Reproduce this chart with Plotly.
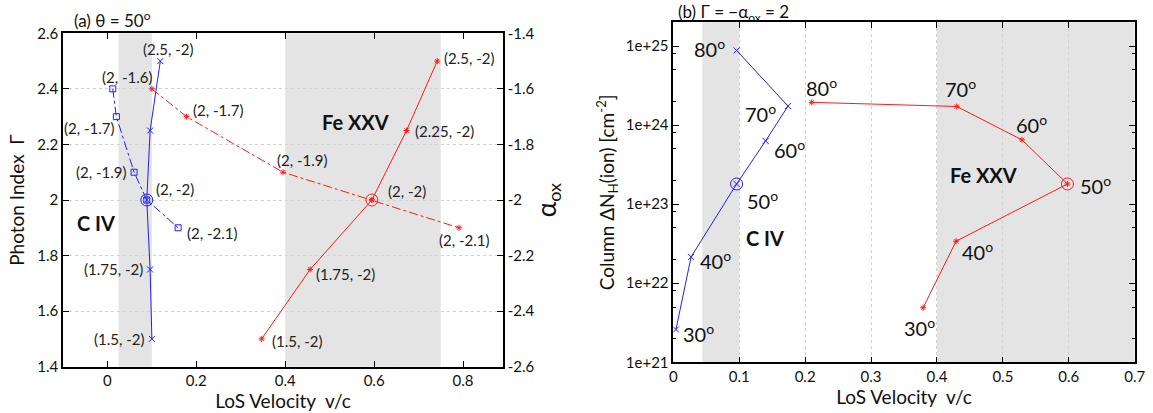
import math
import plotly.graph_objects as go

# ---------------- data: panel (a) ----------------
gamma_vals = [2.5, 2.25, 2.0, 1.75, 1.5]          # photon index Γ (alpha_ox = -2)
alpha_vals = [-1.6, -1.7, -1.9, -2.0, -2.1]       # alpha_ox (Γ = 2)
civ_v_gamma = [0.119, 0.096, 0.0885, 0.096, 0.100]
fe_v_gamma = [0.742, 0.673, 0.595, 0.456, 0.347]
civ_v_alpha = [0.012, 0.020, 0.060, 0.0885, 0.159]
fe_v_alpha = [0.100, 0.178, 0.395, 0.595, 0.791]
civ_gamma_labels = ["(2.5, -2)", "", "(2, -2)", "(1.75, -2)", "(1.5, -2)"]
fe_gamma_labels = ["(2.5, -2)", "(2.25, -2)", "(2, -2)", "(1.75, -2)", "(1.5, -2)"]
civ_alpha_labels = ["(2, -1.6)", "(2, -1.7)", "(2, -1.9)", "", "(2, -2.1)"]
fe_alpha_labels = ["", "(2, -1.7)", "(2, -1.9)", "", "(2, -2.1)"]
fiducial_index_gamma = 2
civ_band_a = [0.025, 0.100]
fe_band_a = [0.400, 0.750]

gamma_ticks = [1.4, 1.6, 1.8, 2.0, 2.2, 2.4, 2.6]
gamma_ticktext = ["1.4", "1.6", "1.8", "2", "2.2", "2.4", "2.6"]
alpha_ticks = [-2.6, -2.4, -2.2, -2.0, -1.8, -1.6, -1.4]
alpha_ticktext = ["-2.6", "-2.4", "-2.2", "-2", "-1.8", "-1.6", "-1.4"]
va_ticks = [0, 0.2, 0.4, 0.6, 0.8]
va_ticktext = ["0", "0.2", "0.4", "0.6", "0.8"]

# ---------------- data: panel (b) ----------------
angles = [30, 40, 50, 60, 70, 80]
civ_v_angle = [0.004, 0.027, 0.096, 0.140, 0.174, 0.096]
civ_nh = [2.6e21, 2.15e22, 1.8e23, 6.3e23, 1.74e24, 8.8e24]
fe_v_angle = [0.379, 0.429, 0.598, 0.529, 0.430, 0.210]
fe_nh = [4.9e21, 3.4e22, 1.8e23, 6.5e23, 1.72e24, 1.94e24]
fiducial_index_angle = 2
civ_band_b = [0.044, 0.100]
fe_band_b = [0.400, 0.700]
nh_ticks = [1e21, 1e22, 1e23, 1e24, 1e25]
nh_ticktext = ["1e+21", "1e+22", "1e+23", "1e+24", "1e+25"]
vb_ticks = [0, 0.1, 0.2, 0.3, 0.4, 0.5, 0.6, 0.7]
vb_ticktext = ["0", "0.1", "0.2", "0.3", "0.4", "0.5", "0.6", "0.7"]

# ---------------- styles ----------------
FONT = "Lato, Open Sans, sans-serif"
BLUE = "#1f1fff"
RED = "#ff1a1a"
GRAY = "#e4e4e4"
GRID = "#d2d2d2"

fig = go.Figure()


def mk(symbol, size, color):
    return dict(symbol=symbol, size=size, color=color, line=dict(color=color, width=1))


# panel (a) traces
fig.add_trace(go.Scatter(x=civ_v_gamma, y=gamma_vals, xaxis="x", yaxis="y", mode="lines+markers",
                         line=dict(color=BLUE, width=1), marker=mk("x-thin-open", 6, BLUE), showlegend=False))
fig.add_trace(go.Scatter(x=civ_v_alpha, y=alpha_vals, xaxis="x", yaxis="y2", mode="lines+markers",
                         line=dict(color=BLUE, width=1, dash="dashdot"), marker=mk("square-open", 6, BLUE),
                         showlegend=False))
fig.add_trace(go.Scatter(x=fe_v_gamma, y=gamma_vals, xaxis="x", yaxis="y", mode="lines+markers",
                         line=dict(color=RED, width=1), marker=mk("asterisk-open", 5, RED), showlegend=False))
fig.add_trace(go.Scatter(x=fe_v_alpha, y=alpha_vals, xaxis="x", yaxis="y2", mode="lines+markers",
                         line=dict(color=RED, width=1, dash="dashdot"), marker=mk("asterisk-open", 5, RED),
                         showlegend=False))
# fiducial circles
i = fiducial_index_gamma
fig.add_trace(go.Scatter(x=[civ_v_gamma[i]], y=[gamma_vals[i]], xaxis="x", yaxis="y", mode="markers",
                         marker=mk("circle-open", 12, BLUE), showlegend=False))
fig.add_trace(go.Scatter(x=[fe_v_gamma[i]], y=[gamma_vals[i]], xaxis="x", yaxis="y", mode="markers",
                         marker=mk("circle-open", 12, RED), showlegend=False))

# panel (b) traces
fig.add_trace(go.Scatter(x=civ_v_angle, y=civ_nh, xaxis="x2", yaxis="y3", mode="lines+markers",
                         line=dict(color=BLUE, width=1), marker=mk("x-thin-open", 6, BLUE), showlegend=False))
fig.add_trace(go.Scatter(x=fe_v_angle, y=fe_nh, xaxis="x2", yaxis="y3", mode="lines+markers",
                         line=dict(color=RED, width=1), marker=mk("asterisk-open", 5, RED), showlegend=False))
j = fiducial_index_angle
fig.add_trace(go.Scatter(x=[civ_v_angle[j]], y=[civ_nh[j]], xaxis="x2", yaxis="y3", mode="markers",
                         marker=mk("circle-open", 12, BLUE), showlegend=False))
fig.add_trace(go.Scatter(x=[fe_v_angle[j]], y=[fe_nh[j]], xaxis="x2", yaxis="y3", mode="markers",
                         marker=mk("circle-open", 12, RED), showlegend=False))

# ---------------- bands ----------------
shapes = []
for band in (civ_band_a, fe_band_a):
    shapes.append(dict(type="rect", xref="x", yref="y domain", x0=band[0], x1=band[1], y0=0, y1=1,
                       fillcolor=GRAY, line=dict(width=0), layer="below"))
for band in (civ_band_b, fe_band_b):
    shapes.append(dict(type="rect", xref="x2", yref="y3 domain", x0=band[0], x1=band[1], y0=0, y1=1,
                       fillcolor=GRAY, line=dict(width=0), layer="below"))

# ---------------- annotations ----------------
ann = []
LBL = dict(family=FONT, size=15, color="#222")


def add_labels(xs, ys, labels, styles, xref, yref, font, log=False):
    for x, y, t, st in zip(xs, ys, labels, styles):
        if not t:
            continue
        ann.append(dict(x=x, y=math.log10(y) if log else y, xref=xref, yref=yref, text=t,
                        showarrow=False, xanchor=st[0], yanchor="middle",
                        xshift=st[1], yshift=st[2], font=font))


add_labels(civ_v_gamma, gamma_vals, civ_gamma_labels,
           [("center", 8, 12), None, ("left", 7, 11), ("right", -5, 0), ("right", -6, 0)], "x", "y", LBL)
add_labels(civ_v_alpha, alpha_vals, civ_alpha_labels,
           [("center", 14, 12), ("right", 0, -11), ("right", -6, 0), None, ("left", 7, -5)], "x", "y2", LBL)
add_labels(fe_v_gamma, gamma_vals, fe_gamma_labels,
           [("left", 5, 3), ("left", 6, 0), ("left", 14, 9), ("left", 4, -5), ("left", 8, -2)], "x", "y", LBL)
add_labels(fe_v_alpha, alpha_vals, fe_alpha_labels,
           [None, ("left", 4, 7), ("center", 19, 12), None, ("center", 5, -12)], "x", "y2", LBL)

ANG = dict(family=FONT, size=20, color="#111")
angle_labels = [f"{a}<sup>o</sup>" for a in angles]
add_labels(civ_v_angle, civ_nh, angle_labels,
           [("left", 5, -4), ("left", 7, -3), ("left", 8, -16), ("left", 6, -8), ("right", -10, -7), ("right", -10, 2)],
           "x2", "y3", ANG, log=True)
add_labels(fe_v_angle, fe_nh, angle_labels,
           [("center", -4, -19), ("left", 4, -10), ("left", 11, -1), ("center", 10, 16), ("center", 4, 18), ("center", 10, 15)],
           "x2", "y3", ANG, log=True)

BOLD = dict(family=FONT, size=20, color="#111")
ann.append(dict(x=-0.025, y=1.916, xref="x", yref="y", text="<b>C IV</b>", showarrow=False, font=BOLD))
ann.append(dict(x=0.557, y=2.28, xref="x", yref="y", text="<b>Fe XXV</b>", showarrow=False, font=BOLD))
ann.append(dict(x=0.139, y=22.566, xref="x2", yref="y3", text="<b>C IV</b>", showarrow=False, font=BOLD))
ann.append(dict(x=0.47, y=23.375, xref="x2", yref="y3", text="<b>Fe XXV</b>", showarrow=False, font=BOLD))

# panel titles
TTL = dict(family=FONT, size=17, color="#111")
ann.append(dict(x=72 / 1153, y=1 - 19 / 413, xref="paper", yref="paper", text="(a) θ = 50<sup>o</sup>",
                showarrow=False, xanchor="left", yanchor="middle", font=TTL))
ann.append(dict(x=676 / 1153, y=1 - 13 / 413, xref="paper", yref="paper",
                text="(b) Γ = −α<sub>ox</sub> = 2",
                showarrow=False, xanchor="left", yanchor="middle", font=TTL))

fig.update_layout(annotations=ann, shapes=shapes)

TICKF = dict(family=FONT, size=15, color="#111")
TITLEF = dict(family=FONT, size=19, color="#111")
AX = dict(showline=True, linecolor="black", linewidth=1.5, ticks="inside", ticklen=6,
          tickcolor="black", tickfont=TICKF, zeroline=False, automargin=False)

minor_vals = [m * 10.0 ** e for e in range(21, 26) for m in (2.0, 5.0, 8.0)]

fig.update_layout(
    template="none",
    width=1153, height=413,
    margin=dict(l=0, r=0, t=0, b=0, pad=0),
    paper_bgcolor="white", plot_bgcolor="white",
    font=dict(family=FONT, color="#111"),
    xaxis=dict(domain=[63 / 1153, 503 / 1153], range=[-0.1, 0.89], anchor="y",
               tickvals=va_ticks, ticktext=va_ticktext, mirror="ticks", showgrid=False,
               title=dict(text="LoS Velocity  v/c", font=TITLEF, standoff=0), **AX),
    yaxis=dict(domain=[1 - 366.7 / 413, 1 - 33.3 / 413], range=[1.4, 2.6], anchor="x",
               tickvals=gamma_ticks, ticktext=gamma_ticktext, mirror=False,
               showgrid=True, gridcolor=GRID, griddash="dot", gridwidth=1,
               title=dict(text="Photon Index  Γ", font=TITLEF, standoff=8), **AX),
    yaxis2=dict(overlaying="y", side="right", anchor="x", range=[-2.6, -1.4],
                tickvals=alpha_ticks, ticktext=alpha_ticktext, showgrid=False,
                title=dict(text="α<sub>ox</sub>", font=dict(family=FONT, size=26, color="#111"), standoff=4),
                **AX),
    xaxis2=dict(domain=[673.3 / 1153, 1134.7 / 1153], range=[0, 0.7], anchor="y3",
                tickvals=vb_ticks, ticktext=vb_ticktext, mirror="ticks",
                showgrid=True, gridcolor=GRID, griddash="dot", gridwidth=1,
                title=dict(text="LoS Velocity  v/c", font=TITLEF, standoff=2), **AX),
    yaxis3=dict(domain=[1 - 362.3 / 413, 1 - 22.3 / 413], type="log", range=[21, 25.3], anchor="x2",
                tickvals=nh_ticks, ticktext=nh_ticktext, mirror="ticks", showgrid=False,
                minor=dict(ticks="inside", ticklen=3, tickcolor="black", tickvals=minor_vals, showgrid=False),
                title=dict(text="Column ΔN<sub>H</sub>(ion) [cm<sup>-2</sup>]", font=TITLEF, standoff=6),
                **AX),
)

fig.write_html("out.html", config={"displayModeBar": False},
               post_script="document.body.style.margin='0';document.body.style.overflow='hidden';")
